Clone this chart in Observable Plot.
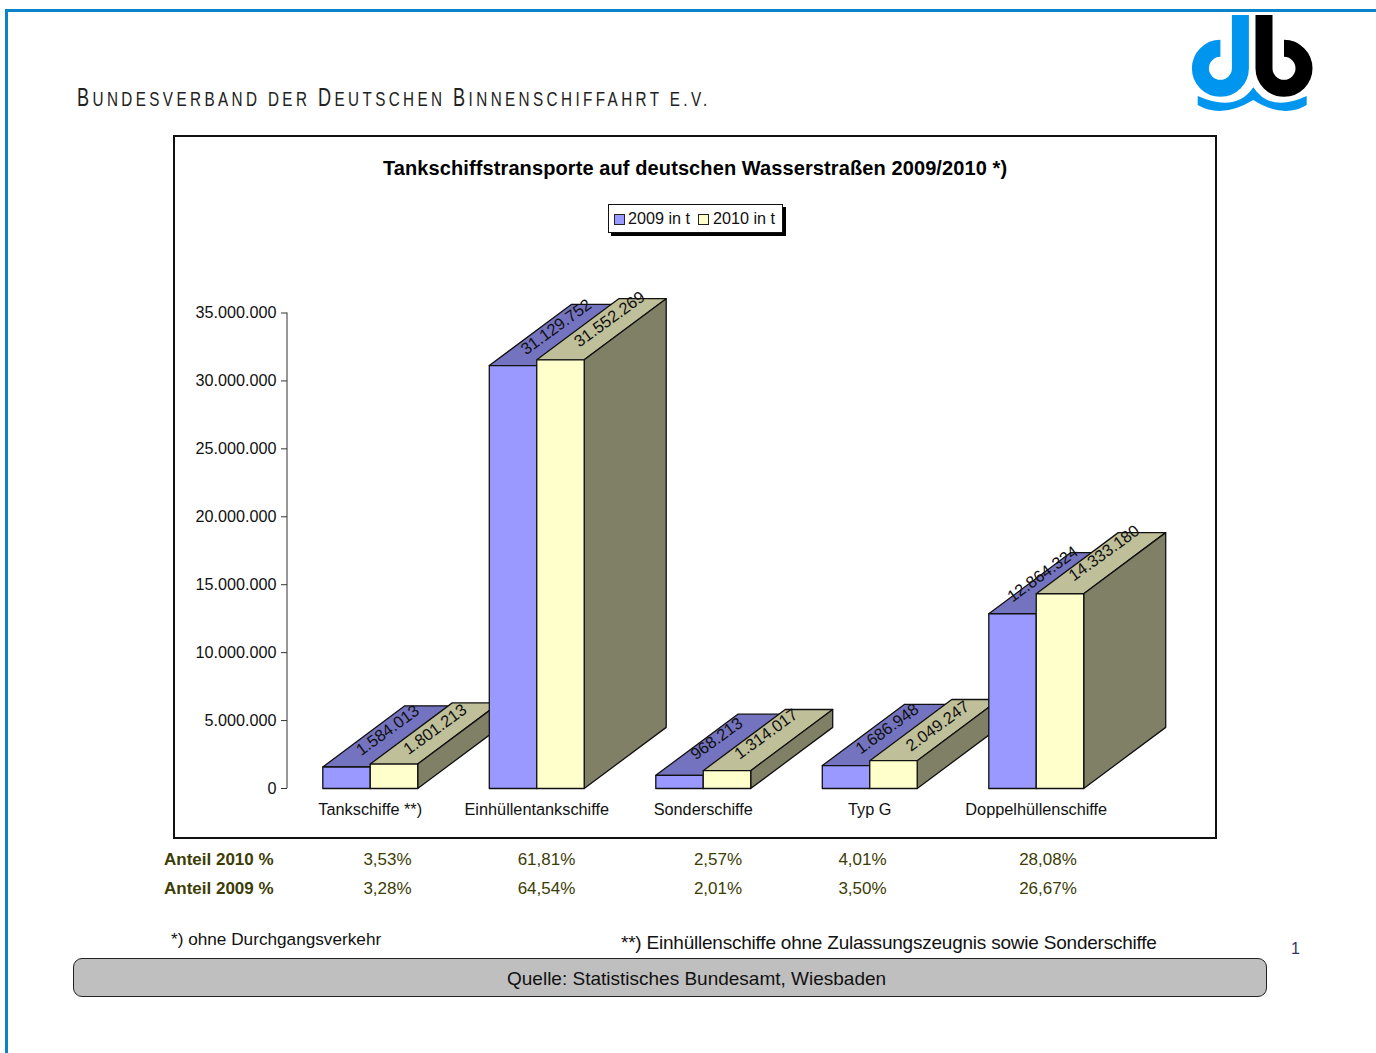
<!DOCTYPE html>
<html lang="de">
<head>
<meta charset="utf-8">
<title>Tankschiffstransporte auf deutschen Wasserstraßen 2009/2010</title>
<script src="https://cdn.jsdelivr.net/npm/d3@7"></script>
<script src="https://cdn.jsdelivr.net/npm/@observablehq/plot@0.6"></script>
<style>
  html, body { margin: 0; padding: 0; background: #fff; }
  body { position: relative; width: 1376px; height: 1053px; overflow: hidden; font-family: "Liberation Sans", Arial, sans-serif; color: #111; }
  .abs { position: absolute; white-space: nowrap; }
  #page-rule { left: 5px; top: 9px; right: 0; bottom: -10px; border-top: 3px solid #0a84c8; border-left: 3px solid #0a84c8; }
  #letterhead { left: 77px; top: 84px; font-size: 21px; line-height: 27px; letter-spacing: 4.65px; color: #222; transform: scaleX(0.727); transform-origin: left center; }
  #letterhead b { font-weight: normal; font-size: 25px; }
  #logo { left: 0; top: 0; }
  #chart-box { left: 173px; top: 134.5px; width: 1040px; height: 700.5px; border: 2px solid #111; }
  #chart-title { left: 383px; top: 156px; font-size: 20px; font-weight: bold; line-height: 24px; color: #000; letter-spacing: 0.1px; }
  #legend { left: 608px; top: 204px; width: 173px; height: 27px; border: 1px solid #111; box-shadow: 3px 3px 0 #000; background: #fff; font-size: 16.2px; line-height: 27px; }
  #legend i { position: absolute; top: 9px; width: 9px; height: 9px; border: 1px solid #222; }
  #legend span { position: absolute; top: 0; }
  #plot { left: 174.8px; top: 135.5px; }
  .share { font-size: 17px; line-height: 20px; color: #3c3c05; transform: translateX(-50%); }
  .share-head { font-size: 17px; line-height: 20px; color: #3c3c05; font-weight: bold; left: 164px; }
  #note-a { left: 171px; top: 929px; font-size: 17.2px; line-height: 20px; color: #111; }
  #note-b { left: 621px; top: 932px; font-size: 19px; line-height: 22px; color: #111; letter-spacing: -0.22px; }
  #source { left: 73px; top: 958px; width: 1192px; height: 37px; background: #bfbfbf; border: 1.5px solid #222; border-radius: 9px; }
  #source-text { left: 507px; top: 968px; font-size: 19px; line-height: 22px; color: #111; }
  #page-no { left: 1291px; top: 939px; font-size: 16px; line-height: 20px; color: #333366; }
  svg { overflow: visible; }
</style>
</head>
<body>
<div id="page-rule" class="abs"></div>
<div id="letterhead" class="abs"><b>B</b>UNDESVERBAND DER <b>D</b>EUTSCHEN <b>B</b>INNENSCHIFFAHRT E.V.</div>

<!-- Association mark: blue d, black b, wave underneath -->
<svg id="logo" class="abs" width="1376" height="130" viewBox="0 0 1376 130">
  <path d="M1220.4 48.3 A20 20 0 1 0 1240.4 68.3 L1240.4 15" fill="none" stroke="#0096f0" stroke-width="17"/>
  <path d="M1284 48.3 A20 20 0 1 1 1264 68.3 L1264 15" fill="none" stroke="#000" stroke-width="17"/>
  <path d="M1197.7 96 L1197.7 105 Q1222 119 1253.3 100 Q1283 119 1306.7 105 L1306.7 96 Q1270 113 1253.3 87.3 Q1236 113 1197.7 96 Z" fill="#0096f0"/>
</svg>

<div id="chart-box" class="abs"></div>
<div id="plot" class="abs"></div>
<div id="chart-title" class="abs">Tankschiffstransporte auf deutschen Wasserstraßen 2009/2010 *)</div>
<div id="legend" class="abs">
  <i style="left:5px;background:#9999ff"></i><span style="left:19px">2009 in t</span>
  <i style="left:89px;background:#ffffcc"></i><span style="left:104px">2010 in t</span>
</div>
<div id="shares"></div>
<div id="note-a" class="abs">*) ohne Durchgangsverkehr</div>
<div id="note-b" class="abs">**) Einhüllenschiffe ohne Zulassungszeugnis sowie Sonderschiffe</div>
<div id="source" class="abs"></div>
<div id="source-text" class="abs">Quelle: Statistisches Bundesamt, Wiesbaden</div>
<div id="page-no" class="abs">1</div>

<script>
// Tonnage per tanker type
const categories = ["Tankschiffe **)", "Einhüllentankschiffe", "Sonderschiffe", "Typ G", "Doppelhüllenschiffe"];
const values2009 = [1584013, 31129752, 968213, 1686948, 12864324];
const values2010 = [1801213, 31552269, 1314017, 2049247, 14333180];
const shares2010 = ["3,53%", "61,81%", "2,57%", "4,01%", "28,08%"];
const shares2009 = ["3,28%", "64,54%", "2,01%", "3,50%", "26,67%"];
const yTicks = [0, 5e6, 10e6, 15e6, 20e6, 25e6, 30e6, 35e6];

// Column proportions, in category steps on x and tonnes on y
const barWidth = 0.285;
const depthX = 0.4925;
const depthY = 4.5e6;

// Hand placement of the rotated value labels, in pixels, 2009 then 2010 per category
const labelNudge = [
  [0.2, -6], [0.2, -4],
  [2.2, -8], [8.2, -10],
  [-3.8, -6], [-1.8, -6],
  [0.2, -6], [3.2, -4],
  [-10.8, -9], [3.2, -10]
];

const german = d3.formatLocale({decimal: ",", thousands: ".", grouping: [3], currency: ["", " €"]});
const fmt = german.format(",d");

// One closed polygon per visible column face, listed back to front
const faces = [];
const labels = [];
categories.forEach((category, i) => {
  [[values2009[i], "2009", 0], [values2010[i], "2010", 1]].forEach(([v, year, s]) => {
    const x0 = i + 0.5 - barWidth + s * barWidth;
    const x1 = x0 + barWidth;
    const polygons = {
      top: [[x0, v], [x1, v], [x1 + depthX, v + depthY], [x0 + depthX, v + depthY]],
      side: [[x1, 0], [x1 + depthX, depthY], [x1 + depthX, v + depthY], [x1, v]],
      front: [[x0, 0], [x1, 0], [x1, v], [x0, v]]
    };
    for (const [face, pts] of Object.entries(polygons)) {
      pts.forEach(([x, y]) => faces.push({x, y, id: `${i}-${year}-${face}`, kind: `${year}-${face}`}));
    }
    labels.push({x: (x0 + x1 + depthX) / 2, y: v + depthY / 2, text: fmt(v)});
  });
});

const chart = Plot.plot({
  width: 1040,
  height: 700,
  marginLeft: 112,
  marginRight: 95,
  marginTop: 177,
  marginBottom: 48,
  style: {background: "transparent", fontFamily: "'Liberation Sans', Arial, sans-serif", fontSize: "16.2px", color: "#111"},
  x: {domain: [0, 5], range: [111.5, 944]},
  y: {domain: [0, 35e6], range: [652, 176.5]},
  color: {
    domain: ["2009-front", "2009-top", "2009-side", "2010-front", "2010-top", "2010-side"],
    range: ["#9999ff", "#7373bf", "#4d4d80", "#ffffcc", "#bfbf99", "#808066"]
  },
  marks: [
    Plot.ruleX([0], {y1: 0, y2: 35e6, stroke: "#333", strokeWidth: 1}),
    Plot.axisY({ticks: yTicks, tickFormat: fmt, tickSize: 6, tickPadding: 5, label: null, stroke: "#333", fontSize: 16.2}),
    Plot.axisX({
      ticks: categories.map((_, i) => i + 0.5),
      tickFormat: (t) => categories[Math.floor(t)],
      tickSize: 0,
      tickPadding: 15,
      label: null,
      fontSize: 16.3
    }),
    Plot.line(faces, {
      x: "x",
      y: "y",
      z: "id",
      fill: "kind",
      stroke: "#111",
      strokeWidth: 1.3,
      curve: "linear-closed"
    }),
    ...labels.map((label, i) => Plot.text([label], {
      x: "x",
      y: "y",
      text: "text",
      rotate: -36,
      dx: labelNudge[i][0],
      dy: labelNudge[i][1],
      fontSize: 16.5,
      fill: "#111"
    }))
  ]
});
document.getElementById("plot").appendChild(chart);

// Percentage rows underneath the chart
const columnCentres = [387.5, 546.5, 718, 862.5, 1048];
const shareRows = [["Anteil 2010 %", shares2010, 849.5], ["Anteil 2009 %", shares2009, 878.5]];
const host = document.getElementById("shares");
shareRows.forEach(([head, values, top]) => {
  const h = document.createElement("div");
  h.className = "abs share-head";
  h.style.top = top + "px";
  h.textContent = head;
  host.appendChild(h);
  values.forEach((value, i) => {
    const c = document.createElement("div");
    c.className = "abs share";
    c.style.left = columnCentres[i] + "px";
    c.style.top = top + "px";
    c.textContent = value;
    host.appendChild(c);
  });
});
</script>
</body>
</html>
